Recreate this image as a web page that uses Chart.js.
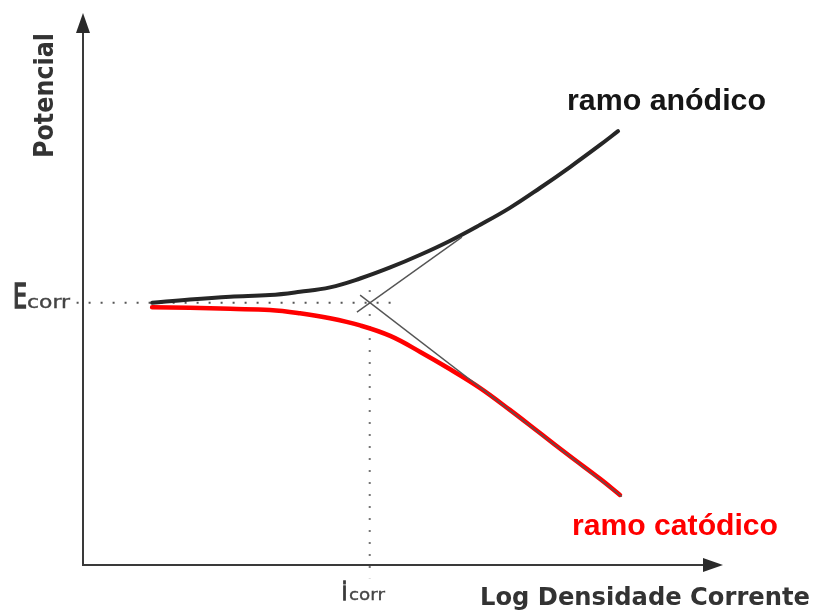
<!DOCTYPE html>
<html>
<head>
<meta charset="utf-8">
<script src="https://cdn.jsdelivr.net/npm/chart.js@4.4.1/dist/chart.umd.min.js"></script>
<style>
  html, body { margin: 0; padding: 0; background: #fff; }
  canvas { display: block; }
</style>
</head>
<body>
<canvas id="chart" width="816" height="612"></canvas>
<script>
// Log current density (x) vs potential (y), arbitrary units 0..100
const anodicX = [10.8, 16.7, 23.0, 29.2, 33.9, 38.6, 43.3, 48.0, 52.7, 57.3, 62.0, 66.7, 71.4, 76.1, 80.8, 83.6];
const anodicY = [47.5, 48.1, 48.6, 48.9, 49.5, 50.3, 51.9, 53.9, 56.2, 58.7, 61.6, 64.7, 68.3, 72.1, 76.1, 78.6];

const cathodicX = [10.8, 16.7, 23.0, 29.2, 33.9, 38.6, 43.3, 48.0, 52.7, 57.3, 62.0, 66.7, 71.4, 76.1, 80.8, 83.9];
const cathodicY = [46.7, 46.6, 46.4, 46.2, 45.6, 44.7, 43.4, 41.5, 38.6, 35.5, 32.1, 28.1, 23.9, 19.7, 15.6, 12.7];

const anodicTafelX = [42.8, 59.2];
const anodicTafelY = [45.8, 59.4];
const cathodicTafelX = [43.3, 84.2];
const cathodicTafelY = [48.9, 12.4];

const ecorrLineX = [-1, 48.4];
const ecorrLineY = [47.5, 47.5];
const icorrLineX = [44.8, 44.8];
const icorrLineY = [49.8, -2.4];

const labels = {
  yTitle: 'Potencial',
  xTitle: 'Log Densidade Corrente',
  anodic: 'ramo anódico',
  cathodic: 'ramo catódico'
};

function toPoints(xs, ys) {
  return xs.map((x, i) => ({ x, y: ys[i] }));
}

function drawFit(ctx, text, x, y, width, font, color, rotate, stroke) {
  ctx.save();
  ctx.font = font;
  ctx.fillStyle = color;
  ctx.strokeStyle = color;
  ctx.textBaseline = 'alphabetic';
  ctx.textAlign = 'left';
  const natural = ctx.measureText(text).width;
  ctx.translate(x, y);
  if (rotate) ctx.rotate(-Math.PI / 2);
  ctx.scale(width / natural, 1);
  ctx.fillText(text, 0, 0);
  if (stroke) {
    ctx.lineWidth = stroke;
    ctx.strokeText(text, 0, 0);
  }
  ctx.restore();
}

const decorPlugin = {
  id: 'decor',
  beforeDatasetsDraw(chart) {
    const ctx = chart.ctx;
    const x = chart.scales.x;
    const y = chart.scales.y;
    const x0 = x.getPixelForValue(0);
    const y0 = y.getPixelForValue(0);
    const xEnd = x.getPixelForValue(100);
    const yEnd = y.getPixelForValue(100);

    ctx.save();
    ctx.strokeStyle = '#3a3a3a';
    ctx.fillStyle = '#2a2a2a';
    ctx.lineWidth = 2;
    ctx.beginPath();
    ctx.moveTo(x0, y0 + 1);
    ctx.lineTo(x0, yEnd + 16);
    ctx.moveTo(x0 - 1, y0);
    ctx.lineTo(xEnd - 16, y0);
    ctx.stroke();

    ctx.beginPath();
    ctx.moveTo(x0, yEnd);
    ctx.lineTo(x0 - 7, yEnd + 20);
    ctx.lineTo(x0 + 7, yEnd + 20);
    ctx.closePath();
    ctx.fill();

    ctx.beginPath();
    ctx.moveTo(xEnd, y0);
    ctx.lineTo(xEnd - 20, y0 - 7);
    ctx.lineTo(xEnd - 20, y0 + 7);
    ctx.closePath();
    ctx.fill();
    ctx.restore();
  },
  afterDraw(chart) {
    const ctx = chart.ctx;
    drawFit(ctx, labels.yTitle, 53, 158, 125, 'bold 27px "DejaVu Sans"', '#333', true);
    drawFit(ctx, labels.xTitle, 480, 605, 330, 'bold 25px "DejaVu Sans"', '#333', false);
    drawFit(ctx, labels.anodic, 567, 110, 199, 'bold 30px "Liberation Sans"', '#161616', false);
    drawFit(ctx, labels.cathodic, 572, 535, 206, 'bold 30px "Liberation Sans"', '#ff0000', false);

    drawFit(ctx, 'E', 13, 308, 14, '33px "DejaVu Sans"', '#3a3a3a', false, 1.6);
    drawFit(ctx, 'corr', 27, 308, 43, '17px "DejaVu Sans"', '#444', false, 0.4);
    drawFit(ctx, 'i', 342, 600, 5, '24px "DejaVu Sans"', '#3a3a3a', false, 1.4);
    drawFit(ctx, 'corr', 349, 600, 36, '15px "DejaVu Sans"', '#444', false, 0.3);
  }
};

new Chart(document.getElementById('chart'), {
  type: 'line',
  data: {
    datasets: [
      {
        data: toPoints(anodicTafelX, anodicTafelY),
        borderColor: '#555',
        borderWidth: 1.4,
        pointRadius: 0,
        order: 0
      },
      {
        data: toPoints(cathodicTafelX, cathodicTafelY),
        borderColor: '#555',
        borderWidth: 1.4,
        pointRadius: 0,
        order: 0
      },
      {
        data: toPoints(anodicX, anodicY),
        borderColor: '#262626',
        borderWidth: 4,
        borderCapStyle: 'round',
        pointRadius: 0,
        tension: 0.4,
        order: 1
      },
      {
        data: toPoints(cathodicX, cathodicY),
        borderColor: '#ff0000',
        borderWidth: 4.5,
        borderCapStyle: 'round',
        pointRadius: 0,
        tension: 0.4,
        order: 1
      },
      {
        data: toPoints(ecorrLineX, ecorrLineY),
        borderColor: '#555',
        borderWidth: 2,
        borderDash: [2, 10],
        pointRadius: 0,
        clip: false,
        order: 2
      },
      {
        data: toPoints(icorrLineX, icorrLineY),
        borderColor: '#777',
        borderWidth: 2,
        borderDash: [2, 10],
        pointRadius: 0,
        clip: false,
        order: 2
      }
    ]
  },
  options: {
    responsive: false,
    animation: false,
    layout: { padding: { left: 83, right: 93, top: 13, bottom: 47 } },
    scales: {
      x: { type: 'linear', min: 0, max: 100, display: false },
      y: { type: 'linear', min: 0, max: 100, display: false }
    },
    plugins: {
      legend: { display: false },
      tooltip: { enabled: false }
    }
  },
  plugins: [decorPlugin]
});
</script>
</body>
</html>
